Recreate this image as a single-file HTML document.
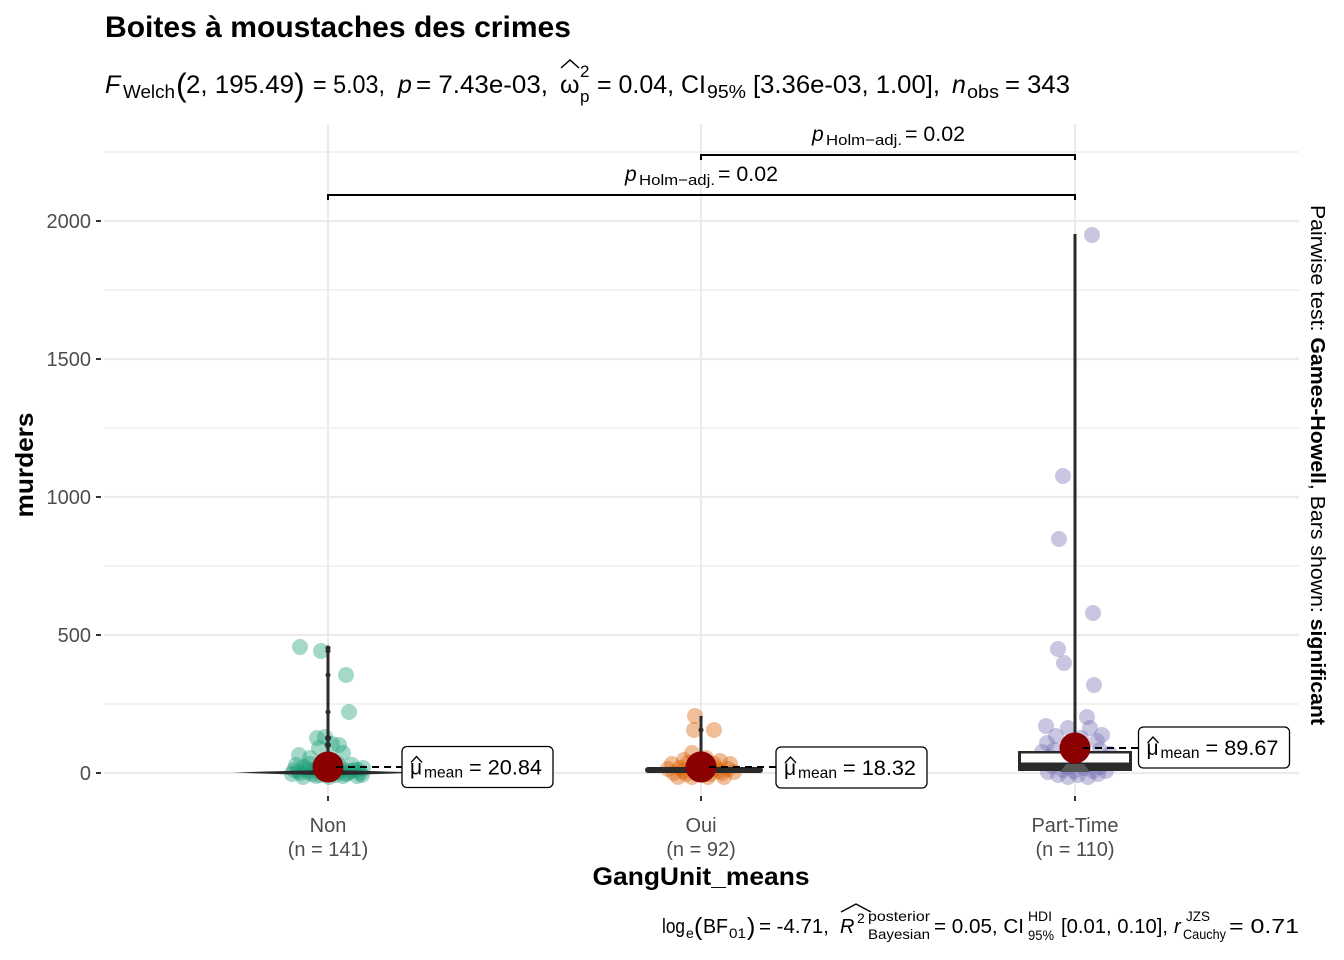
<!DOCTYPE html>
<html><head><meta charset="utf-8"><style>
html,body{margin:0;padding:0;background:#fff;}
svg{display:block;}
text{font-family:"Liberation Sans",Arial,sans-serif;}
</style></head><body>
<svg width="1344" height="960" viewBox="0 0 1344 960" xmlns="http://www.w3.org/2000/svg">
<rect width="1344" height="960" fill="#fff"/>
<!-- title -->
<text x="105" y="37" font-size="30" font-weight="bold" fill="#000" textLength="466" lengthAdjust="spacingAndGlyphs">Boites à moustaches des crimes</text>
<!-- subtitle -->
<g fill="#000">
<text x="105" y="93" font-size="25" font-style="italic">F</text>
<text x="123" y="98" font-size="18" textLength="52" lengthAdjust="spacingAndGlyphs">Welch</text>
<text x="176" y="96" font-size="32">(</text>
<text x="186" y="93" font-size="25" textLength="108" lengthAdjust="spacingAndGlyphs">2, 195.49</text>
<text x="294" y="96" font-size="32">)</text>
<text x="313" y="93" font-size="25" textLength="72" lengthAdjust="spacingAndGlyphs">= 5.03,</text>
<text x="398" y="93" font-size="25" font-style="italic">p</text>
<text x="416" y="93" font-size="25" textLength="132" lengthAdjust="spacingAndGlyphs">= 7.43e-03,</text>
<text x="560" y="93" font-size="25">ω</text>
<path d="M561,68 L570,60 L579,68" fill="none" stroke="#000" stroke-width="1.5"/>
<text x="580" y="77" font-size="17">2</text>
<text x="580" y="102" font-size="17">p</text>
<text x="597" y="93" font-size="25" textLength="109" lengthAdjust="spacingAndGlyphs">= 0.04, CI</text>
<text x="707" y="98" font-size="18" textLength="39" lengthAdjust="spacingAndGlyphs">95%</text>
<text x="753" y="93" font-size="25" textLength="187" lengthAdjust="spacingAndGlyphs">[3.36e-03, 1.00],</text>
<text x="952" y="93" font-size="25" font-style="italic">n</text>
<text x="967" y="98" font-size="18" textLength="32" lengthAdjust="spacingAndGlyphs">obs</text>
<text x="1005" y="93" font-size="25" textLength="65" lengthAdjust="spacingAndGlyphs">= 343</text>
</g>
<!-- gridlines -->
<g stroke="#EBEBEB">
<g stroke-width="1.2">
<line x1="104" y1="704" x2="1299" y2="704"/>
<line x1="104" y1="566" x2="1299" y2="566"/>
<line x1="104" y1="428" x2="1299" y2="428"/>
<line x1="104" y1="290" x2="1299" y2="290"/>
<line x1="104" y1="152" x2="1299" y2="152"/>
</g>
<g stroke-width="2.2">
<line x1="104" y1="773" x2="1299" y2="773"/>
<line x1="104" y1="635" x2="1299" y2="635"/>
<line x1="104" y1="497" x2="1299" y2="497"/>
<line x1="104" y1="359" x2="1299" y2="359"/>
<line x1="104" y1="221" x2="1299" y2="221"/>
<line x1="328" y1="124" x2="328" y2="795"/>
<line x1="701" y1="124" x2="701" y2="795"/>
<line x1="1075" y1="124" x2="1075" y2="795"/>
</g>
</g>
<!-- y axis ticks & labels -->
<g stroke="#333" stroke-width="2">
<line x1="96" y1="773" x2="101" y2="773"/>
<line x1="96" y1="635" x2="101" y2="635"/>
<line x1="96" y1="497" x2="101" y2="497"/>
<line x1="96" y1="359" x2="101" y2="359"/>
<line x1="96" y1="221" x2="101" y2="221"/>
<line x1="328" y1="796" x2="328" y2="801"/>
<line x1="701" y1="796" x2="701" y2="801"/>
<line x1="1075" y1="796" x2="1075" y2="801"/>
</g>
<g fill="#4D4D4D" font-size="20" text-anchor="end">
<text x="91" y="780">0</text>
<text x="91" y="642">500</text>
<text x="91" y="504">1000</text>
<text x="91" y="366">1500</text>
<text x="91" y="228">2000</text>
</g>
<g fill="#4D4D4D" font-size="20" text-anchor="middle">
<text x="328" y="832">Non</text>
<text x="328" y="856">(n = 141)</text>
<text x="701" y="832">Oui</text>
<text x="701" y="856">(n = 92)</text>
<text x="1075" y="832">Part-Time</text>
<text x="1075" y="856">(n = 110)</text>
</g>
<text x="701" y="885" font-size="25" font-weight="bold" text-anchor="middle" textLength="217" lengthAdjust="spacingAndGlyphs">GangUnit_means</text>
<text transform="translate(33,465) rotate(-90)" font-size="25" font-weight="bold" text-anchor="middle" textLength="105" lengthAdjust="spacingAndGlyphs">murders</text>
<!-- right caption -->
<text transform="translate(1311,465) rotate(90)" font-size="20" text-anchor="middle" textLength="520" lengthAdjust="spacingAndGlyphs">Pairwise test: <tspan font-weight="bold">Games-Howell</tspan>, Bars shown: <tspan font-weight="bold">significant</tspan></text>

<!-- points: Non -->
<g fill="#1B9E77" fill-opacity="0.4">
<circle cx="300" cy="647" r="8"/><circle cx="321" cy="651" r="8"/><circle cx="346" cy="675" r="8"/><circle cx="349" cy="712" r="8"/>
<circle cx="317" cy="738" r="8"/><circle cx="325" cy="737" r="8"/><circle cx="339" cy="745" r="8"/><circle cx="299" cy="755" r="8"/>
<circle cx="343" cy="753" r="8"/><circle cx="319" cy="748" r="8"/><circle cx="332" cy="744" r="8"/><circle cx="310" cy="758" r="8"/>
<circle cx="294" cy="770" r="8"/><circle cx="300" cy="773" r="8"/><circle cx="306" cy="769" r="8"/><circle cx="312" cy="774" r="8"/>
<circle cx="318" cy="768" r="8"/><circle cx="324" cy="773" r="8"/><circle cx="330" cy="770" r="8"/><circle cx="336" cy="775" r="8"/>
<circle cx="342" cy="769" r="8"/><circle cx="348" cy="773" r="8"/><circle cx="354" cy="770" r="8"/><circle cx="360" cy="773" r="8"/>
<circle cx="296" cy="765" r="8"/><circle cx="310" cy="764" r="8"/><circle cx="322" cy="763" r="8"/><circle cx="338" cy="764" r="8"/>
<circle cx="352" cy="765" r="8"/><circle cx="363" cy="768" r="8"/><circle cx="303" cy="777" r="8"/><circle cx="316" cy="776" r="8"/>
<circle cx="329" cy="777" r="8"/><circle cx="343" cy="776" r="8"/><circle cx="357" cy="776" r="8"/><circle cx="298" cy="771" r="8"/>
<circle cx="308" cy="772" r="8"/><circle cx="350" cy="771" r="8"/><circle cx="333" cy="766" r="8"/><circle cx="314" cy="770" r="8"/>
<circle cx="346" cy="774" r="8"/><circle cx="326" cy="771" r="8"/><circle cx="304" cy="767" r="8"/><circle cx="358" cy="770" r="8"/>
<circle cx="292" cy="774" r="8"/><circle cx="362" cy="775" r="8"/><circle cx="320" cy="775" r="8"/><circle cx="340" cy="772" r="8"/>
</g>
<!-- points: Oui -->
<g fill="#D95F02" fill-opacity="0.4">
<circle cx="695" cy="716" r="8"/><circle cx="694" cy="730" r="8"/><circle cx="714" cy="730" r="8"/><circle cx="692" cy="753" r="8"/>
<circle cx="706" cy="758" r="8"/><circle cx="684" cy="760" r="8"/><circle cx="720" cy="761" r="8"/>
<circle cx="668" cy="769" r="8"/><circle cx="674" cy="773" r="8"/><circle cx="680" cy="768" r="8"/><circle cx="686" cy="774" r="8"/>
<circle cx="692" cy="769" r="8"/><circle cx="698" cy="773" r="8"/><circle cx="704" cy="769" r="8"/><circle cx="710" cy="774" r="8"/>
<circle cx="716" cy="768" r="8"/><circle cx="722" cy="773" r="8"/><circle cx="728" cy="769" r="8"/><circle cx="734" cy="772" r="8"/>
<circle cx="672" cy="764" r="8"/><circle cx="688" cy="763" r="8"/><circle cx="714" cy="764" r="8"/><circle cx="730" cy="764" r="8"/>
<circle cx="678" cy="777" r="8"/><circle cx="692" cy="777" r="8"/><circle cx="708" cy="777" r="8"/><circle cx="724" cy="777" r="8"/>
<circle cx="700" cy="765" r="8"/><circle cx="683" cy="771" r="8"/><circle cx="719" cy="771" r="8"/>
</g>
<!-- points: Part-Time -->
<g fill="#7570B3" fill-opacity="0.4">
<circle cx="1092" cy="235" r="8"/><circle cx="1063" cy="476" r="8"/><circle cx="1059" cy="539" r="8"/><circle cx="1093" cy="613" r="8"/>
<circle cx="1058" cy="649" r="8"/><circle cx="1064" cy="663" r="8"/><circle cx="1094" cy="685" r="8"/><circle cx="1087" cy="717" r="8"/>
<circle cx="1046" cy="726" r="8"/><circle cx="1068" cy="728" r="8"/><circle cx="1090" cy="728" r="8"/><circle cx="1102" cy="735" r="8"/>
<circle cx="1047" cy="743" r="8"/><circle cx="1097" cy="741" r="8"/><circle cx="1081" cy="738" r="8"/><circle cx="1056" cy="736" r="8"/>
<circle cx="1042" cy="752" r="8"/><circle cx="1054" cy="750" r="8"/><circle cx="1100" cy="750" r="8"/><circle cx="1110" cy="754" r="8"/>
<circle cx="1044" cy="762" r="8"/><circle cx="1052" cy="766" r="8"/><circle cx="1060" cy="760" r="8"/><circle cx="1068" cy="767" r="8"/>
<circle cx="1076" cy="762" r="8"/><circle cx="1084" cy="768" r="8"/><circle cx="1092" cy="761" r="8"/><circle cx="1100" cy="767" r="8"/>
<circle cx="1108" cy="763" r="8"/><circle cx="1048" cy="772" r="8"/><circle cx="1058" cy="775" r="8"/><circle cx="1068" cy="777" r="8"/>
<circle cx="1078" cy="775" r="8"/><circle cx="1088" cy="777" r="8"/><circle cx="1098" cy="774" r="8"/><circle cx="1106" cy="771" r="8"/>
<circle cx="1063" cy="770" r="8"/><circle cx="1093" cy="771" r="8"/><circle cx="1074" cy="771" r="8"/><circle cx="1050" cy="757" r="8"/>
</g>

<!-- violins/boxes Non -->
<path d="M233,772.5 Q300,770.5 328,770 Q356,770.5 420,772.5 Q356,775 328,775 Q300,775 233,772.5 Z" fill="#2a2a2a"/>
<line x1="328" y1="647" x2="328" y2="770" stroke="#2a2a2a" stroke-width="3"/>
<g fill="#2a2a2a"><circle cx="328" cy="648" r="2.5"/><circle cx="328" cy="651" r="2.5"/><circle cx="328" cy="675" r="2.5"/><circle cx="328" cy="712" r="2.5"/><circle cx="328" cy="738" r="3"/><circle cx="328" cy="745" r="3"/><circle cx="328" cy="755" r="3"/></g>
<!-- Oui -->
<rect x="645" y="767" width="118" height="6" rx="3" fill="#2a2a2a"/>
<line x1="701" y1="716" x2="701" y2="768" stroke="#2a2a2a" stroke-width="3"/>
<circle cx="701" cy="730" r="2.5" fill="#2a2a2a"/>
<!-- Part-Time -->
<line x1="1075" y1="234" x2="1075" y2="760" stroke="#2a2a2a" stroke-width="3"/>
<rect x="1018" y="751" width="114" height="20" fill="#2a2a2a"/>
<rect x="1021" y="753.5" width="108" height="9" fill="#fff"/>
<path d="M1060,772 L1066,764 L1084,764 L1090,772 Z" fill="#555"/>

<!-- mean points -->
<g fill="#8B0000">
<circle cx="328" cy="767" r="15.5"/>
<circle cx="701" cy="767" r="15.5"/>
<circle cx="1075" cy="748" r="15.5"/>
</g>
<!-- dashed connectors -->
<g stroke="#000" stroke-width="2" stroke-dasharray="7,5">
<line x1="336" y1="767" x2="402" y2="767"/>
<line x1="709" y1="767" x2="776" y2="767"/>
<line x1="1083" y1="748" x2="1138" y2="748"/>
</g>
<!-- labels -->
<g stroke="#000" stroke-width="1.3" fill="#fff">
<rect x="402" y="746.5" width="151" height="41" rx="5"/>
<rect x="776" y="747" width="151" height="41" rx="5"/>
<rect x="1138.5" y="727" width="151" height="41" rx="5"/>
</g>
<g fill="#000">
<g transform="translate(402,746.5)">
<text x="8" y="28" font-size="21">μ</text>
<path d="M9,16 L14.5,10 L20,16" fill="none" stroke="#000" stroke-width="1.3"/>
<text x="22" y="31" font-size="16" textLength="39" lengthAdjust="spacingAndGlyphs">mean</text>
<text x="67" y="28" font-size="21" textLength="73" lengthAdjust="spacingAndGlyphs">= 20.84</text>
</g>
<g transform="translate(776,747)">
<text x="8" y="28" font-size="21">μ</text>
<path d="M9,16 L14.5,10 L20,16" fill="none" stroke="#000" stroke-width="1.3"/>
<text x="22" y="31" font-size="16" textLength="39" lengthAdjust="spacingAndGlyphs">mean</text>
<text x="67" y="28" font-size="21" textLength="73" lengthAdjust="spacingAndGlyphs">= 18.32</text>
</g>
<g transform="translate(1138.5,727)">
<text x="8" y="28" font-size="21">μ</text>
<path d="M9,16 L14.5,10 L20,16" fill="none" stroke="#000" stroke-width="1.3"/>
<text x="22" y="31" font-size="16" textLength="39" lengthAdjust="spacingAndGlyphs">mean</text>
<text x="67" y="28" font-size="21" textLength="73" lengthAdjust="spacingAndGlyphs">= 89.67</text>
</g>
</g>

<!-- brackets -->
<g stroke="#000" stroke-width="2" fill="none">
<path d="M701,160 L701,155 L1075,155 L1075,160"/>
<path d="M328,200 L328,195 L1075,195 L1075,200"/>
</g>
<g fill="#000">
<text x="812" y="141" font-size="21" font-style="italic">p</text>
<text x="826" y="145" font-size="15" textLength="76" lengthAdjust="spacingAndGlyphs">Holm−adj.</text>
<text x="905" y="141" font-size="21" textLength="60" lengthAdjust="spacingAndGlyphs">= 0.02</text>
<text x="625" y="181" font-size="21" font-style="italic">p</text>
<text x="639" y="185" font-size="15" textLength="76" lengthAdjust="spacingAndGlyphs">Holm−adj.</text>
<text x="718" y="181" font-size="21" textLength="60" lengthAdjust="spacingAndGlyphs">= 0.02</text>
</g>

<!-- bottom caption -->
<g fill="#000">
<text x="662" y="933" font-size="20" textLength="23" lengthAdjust="spacingAndGlyphs">log</text>
<text x="686" y="938" font-size="14">e</text>
<text x="694" y="935" font-size="25">(</text>
<text x="703" y="933" font-size="20" textLength="25" lengthAdjust="spacingAndGlyphs">BF</text>
<text x="729" y="938" font-size="14" textLength="17" lengthAdjust="spacingAndGlyphs">01</text>
<text x="747" y="935" font-size="25">)</text>
<text x="759" y="933" font-size="20" textLength="70" lengthAdjust="spacingAndGlyphs">= -4.71,</text>
<text x="840" y="933" font-size="20" font-style="italic">R</text>
<path d="M841,912 L856,904 L871,912" fill="none" stroke="#000" stroke-width="1.4"/>
<text x="857" y="923" font-size="14">2</text>
<text x="868" y="921" font-size="14" textLength="62" lengthAdjust="spacingAndGlyphs">posterior</text>
<text x="868" y="939" font-size="14" textLength="62" lengthAdjust="spacingAndGlyphs">Bayesian</text>
<text x="934" y="933" font-size="20" textLength="90" lengthAdjust="spacingAndGlyphs">= 0.05, CI</text>
<text x="1028" y="921" font-size="14" textLength="24" lengthAdjust="spacingAndGlyphs">HDI</text>
<text x="1028" y="940" font-size="14" textLength="26" lengthAdjust="spacingAndGlyphs">95%</text>
<text x="1061" y="933" font-size="20" textLength="107" lengthAdjust="spacingAndGlyphs">[0.01, 0.10],</text>
<text x="1174" y="933" font-size="20" font-style="italic">r</text>
<text x="1186" y="921" font-size="14" textLength="24" lengthAdjust="spacingAndGlyphs">JZS</text>
<text x="1183" y="939" font-size="14" textLength="43" lengthAdjust="spacingAndGlyphs">Cauchy</text>
<text x="1229" y="933" font-size="20" textLength="70" lengthAdjust="spacingAndGlyphs">= 0.71</text>
</g>
</svg>
</body></html>
